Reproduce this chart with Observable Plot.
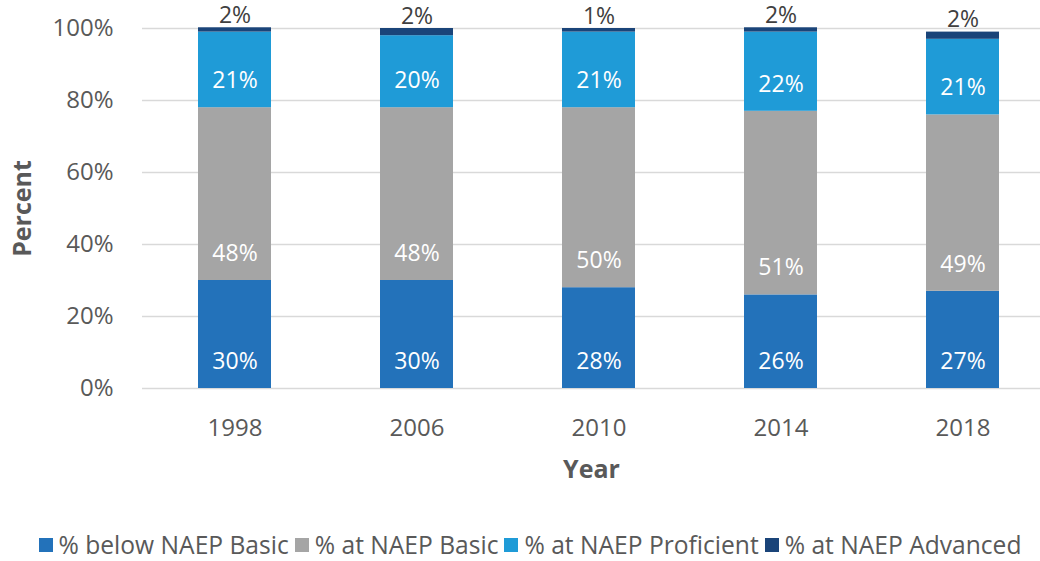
<!DOCTYPE html>
<html>
<head>
<meta charset="utf-8">
<script src="https://cdn.jsdelivr.net/npm/d3@7"></script>
<script src="https://cdn.jsdelivr.net/npm/@observablehq/plot@0.6"></script>
<style>
  html, body { margin: 0; padding: 0; background: #fff; }
  body { width: 1040px; height: 561px; overflow: hidden; font-family: "Open Sans", sans-serif; }
  #legend { height: 61px; box-sizing: border-box; padding-top: 29px; padding-left: 20px; display: flex; justify-content: center; align-items: center; font-size: 24.6px; color: #595959; line-height: 32px; white-space: nowrap; }
  #legend .item { display: flex; align-items: center; margin: 0 3px; line-height: 32px; }
  #legend .sw { width: 14px; height: 14px; margin-right: 6px; display: inline-block; }
</style>
</head>
<body>
<div id="chart"></div>
<div id="legend"></div>
<script>
const years = ["1998", "2006", "2010", "2014", "2018"];
const seriesNames = ["% below NAEP Basic", "% at NAEP Basic", "% at NAEP Proficient", "% at NAEP Advanced"];
const seriesColors = ["#2372BA", "#A5A5A5", "#1F9BD7", "#1A4479"];
const belowBasic = [30, 30, 28, 26, 27];
const atBasic = [48, 48, 50, 51, 49];
const atProficient = [21, 20, 21, 22, 21];
const atAdvanced = [1.2, 2, 1, 1.2, 2];
const advancedLabels = ["2%", "2%", "1%", "2%", "2%"];
const yTicks = [0, 20, 40, 60, 80, 100];

const seriesValues = [belowBasic, atBasic, atProficient, atAdvanced];
const data = [];
years.forEach((yr, i) => {
  seriesNames.forEach((s, k) => {
    const v = seriesValues[k][i];
    data.push({
      year: yr, series: s, value: v,
      inner: k < 3 ? Math.round(v) + "%" : "",
      outer: k === 3 ? advancedLabels[i] : ""
    });
  });
});

const W = 1040, H = 500;
const chart = Plot.plot({
  width: W, height: H,
  marginLeft: 142, marginRight: 0, marginTop: 28, marginBottom: 112,
  style: { fontFamily: "Open Sans, sans-serif", background: "#fff", overflow: "visible" },
  x: { domain: years, range: [142, 1055], paddingInner: 0.6, paddingOuter: 0.3, label: null },
  y: { domain: [0, 100], label: null },
  color: { domain: seriesNames, range: seriesColors },
  marks: [
    Plot.ruleY(yTicks, { stroke: "#D9D9D9", strokeWidth: 1.5 }),
    Plot.barY(data, { x: "year", y: "value", z: "series", fill: "series" }),
    Plot.text(data, Plot.stackY1({ x: "year", y: "value", z: "series", text: "inner", fill: "white", fontSize: 23, dy: -27, lineAnchor: "middle" })),
    Plot.text(data, Plot.stackY2({ x: "year", y: "value", z: "series", text: "outer", fill: "#404040", fontSize: 23, dy: -12, lineAnchor: "middle" })),
    Plot.axisY(yTicks, { tickSize: 0, tickPadding: 29, fontSize: 24, fill: "#595959", tickFormat: d => d + "%", label: null }),
    Plot.axisX({ tickSize: 0, tickPadding: 30, fontSize: 24, fill: "#595959", label: null }),
    Plot.text(["Year"], { frameAnchor: "bottom", dy: 81, fontSize: 25, fontWeight: "bold", fill: "#595959", textAnchor: "middle", lineAnchor: "middle", text: d => d }),
    Plot.text(["Percent"], { frameAnchor: "left", dx: -120, rotate: -90, fontSize: 25, fontWeight: "bold", fill: "#595959", textAnchor: "middle", lineAnchor: "middle", text: d => d })
  ]
});
document.getElementById("chart").appendChild(chart);

const legend = document.getElementById("legend");
seriesNames.forEach((s, k) => {
  const item = document.createElement("span");
  item.className = "item";
  const sw = document.createElement("span");
  sw.className = "sw";
  sw.style.background = seriesColors[k];
  item.appendChild(sw);
  item.appendChild(document.createTextNode(s));
  legend.appendChild(item);
});
</script>
</body>
</html>
